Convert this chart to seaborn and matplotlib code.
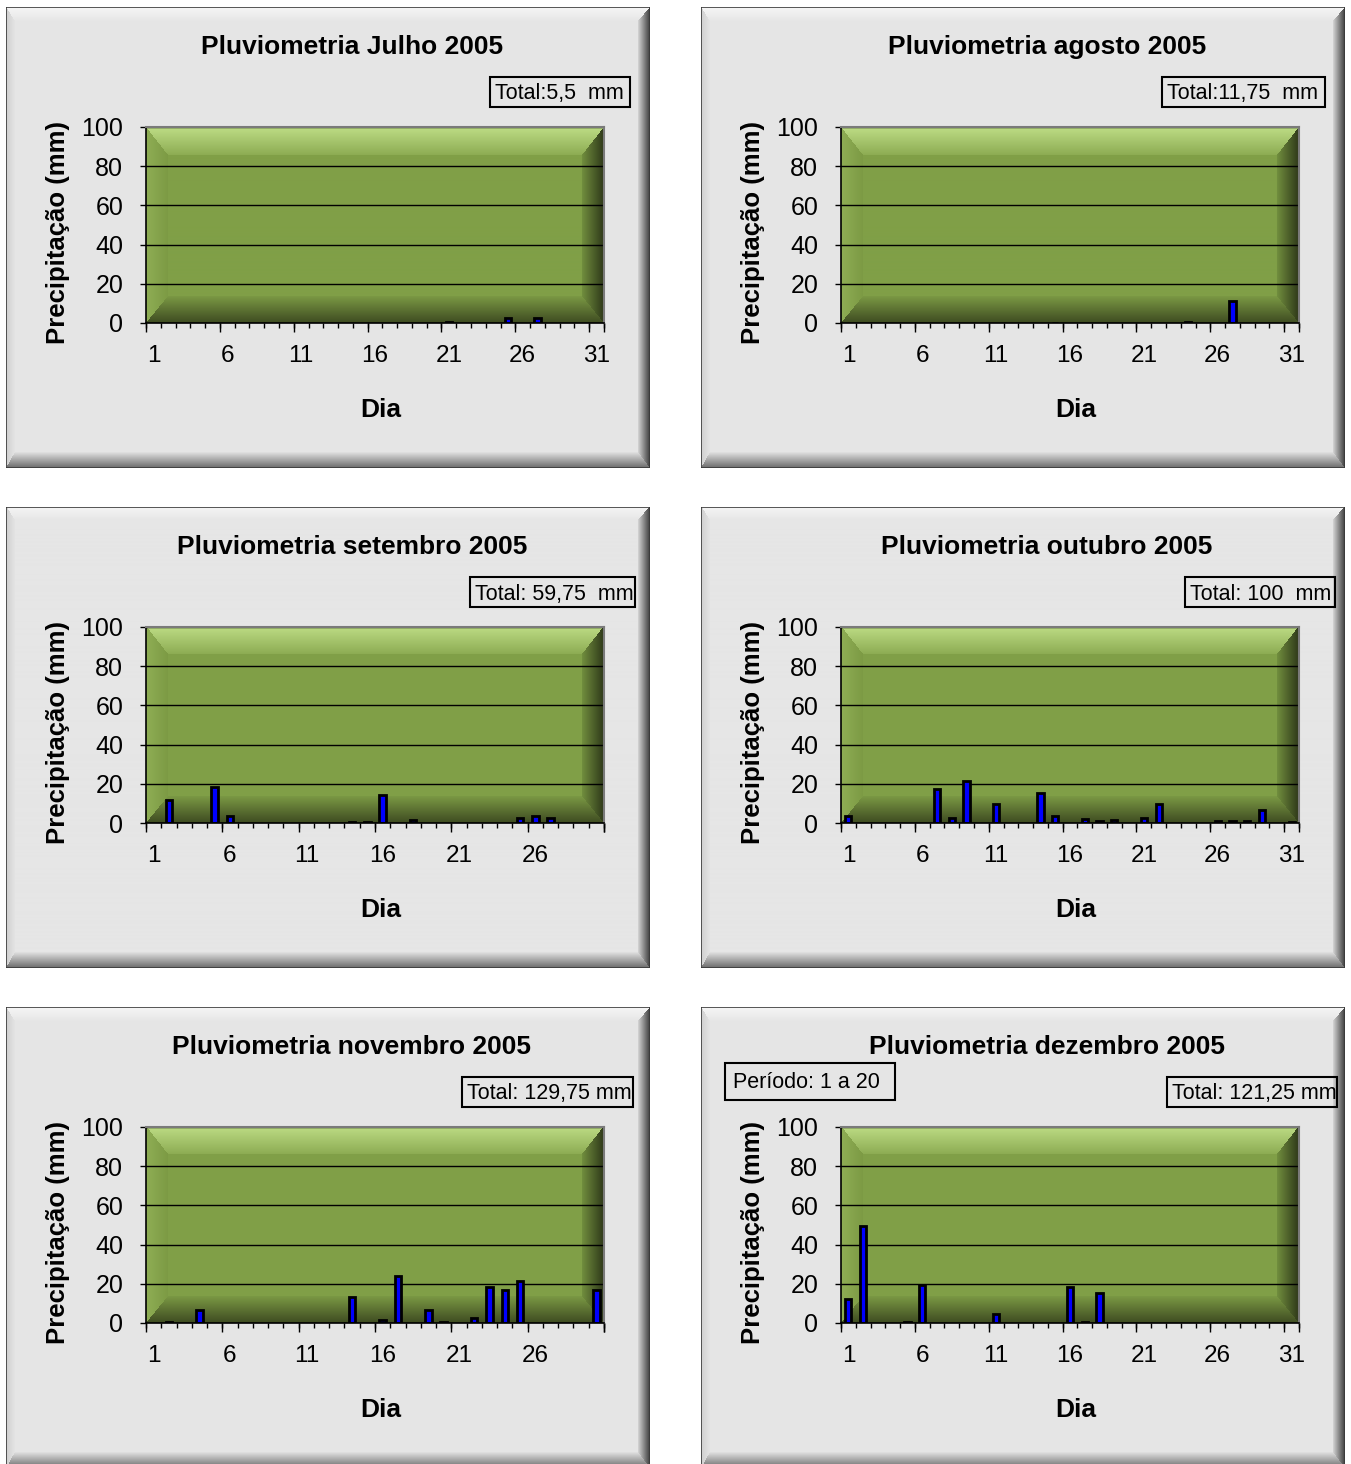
import numpy as np
import pandas as pd
import seaborn as sns
import matplotlib.pyplot as plt
from matplotlib.patches import Rectangle
from matplotlib.colors import to_rgb

# dados (mm por dia)
meses = ["Julho", "agosto", "setembro", "outubro", "novembro", "dezembro"]
n_dias = [31, 31, 30, 31, 30, 31]
totais = ["Total:5,5  mm", "Total:11,75  mm", "Total: 59,75  mm",
          "Total: 100  mm", "Total: 129,75 mm", "Total: 121,25 mm"]

dias_jul = [21, 25, 27]
chuva_jul = [0.5, 2.5, 2.5]
dias_ago = [15, 24, 27]
chuva_ago = [0.25, 0.5, 11]
dias_set = [2, 5, 6, 14, 15, 16, 18, 25, 26, 27]
chuva_set = [11.5, 18.5, 3.5, 0.75, 0.75, 14.5, 1.75, 2.5, 3.5, 2.5]
dias_out = [1, 7, 8, 9, 11, 14, 15, 17, 18, 19, 21, 22, 26, 27, 28, 29, 31]
chuva_out = [3.5, 17.5, 2.5, 21.5, 9.5, 15.5, 3.5, 2, 1, 1.5, 2.5, 9.5, 1, 1, 1, 6.5, 0.5]
dias_nov = [2, 4, 14, 16, 17, 19, 20, 22, 23, 24, 25, 30]
chuva_nov = [0.5, 6.5, 13.5, 1.75, 24, 6.5, 0.5, 2.5, 18.5, 17, 21.5, 17]
dias_dez = [1, 2, 5, 6, 11, 16, 17, 18]
chuva_dez = [12.5, 49.5, 0.5, 19.5, 4.75, 18.5, 0.5, 15.5]

dias = [dias_jul, dias_ago, dias_set, dias_out, dias_nov, dias_dez]
chuva = [chuva_jul, chuva_ago, chuva_set, chuva_out, chuva_nov, chuva_dez]

# layout em pixels
W, H = 1351, 1464
col_left = [6, 701]
row_top = [7, 507, 1007]
caixas = [(484, 624), (461, 624), (464, 629), (484, 634), (456, 627), (466, 636)]


def fx(px):
    return px / W


def fy(py):
    return 1 - py / H


def bevel_img(w, h, face, sides, widths):
    yy, xx = np.mgrid[0:h, 0:w] + 0.5
    dist = np.stack([yy / widths[0], (h - yy) / widths[1],
                     xx / widths[2], (w - xx) / widths[3]])
    k = dist.argmin(axis=0)
    t = np.clip(dist.min(axis=0), 0, 1)
    img = np.empty((h, w, 3))
    img[:] = to_rgb(face)
    for i, (outer, inner) in enumerate(sides):
        m = (k == i) & (t < 1)
        tt = t[m][:, None]
        img[m] = np.array(to_rgb(outer)) * (1 - tt) + np.array(to_rgb(inner)) * tt
    return img


sns.set_theme(style="white")
plt.rcParams["font.family"] = ["Liberation Sans", "DejaVu Sans"]

panel_img = bevel_img(644, 461, "#e6e6e6",
                      [("#f6f6f6", "#e6e6e6"), ("#6a6a6a", "#e2e2e2"),
                       ("#cfcfcf", "#e4e4e4"), ("#3c3c3c", "#d6d6d6")],
                      [14, 16, 9, 12])
green_img = bevel_img(458, 197, "#809f47",
                      [("#bedd86", "#8dac53"), ("#3e4b21", "#7b9944"),
                       ("#8fae55", "#7c9a44"), ("#2e3819", "#718e3e")],
                      [28, 27, 22, 22])

fig = plt.figure(figsize=(W / 100, H / 100), dpi=100)
fig.patch.set_facecolor("white")

for i, mes in enumerate(meses):
    r, c = divmod(i, 2)
    x0, y0 = col_left[c], row_top[r]
    n = n_dias[i]

    # fundo do painel
    pax = fig.add_axes([fx(x0), fy(y0 + 461), fx(644), 461 / H], zorder=0)
    pax.imshow(panel_img, extent=(0, 1, 0, 1), aspect="auto")
    pax.add_patch(Rectangle((0, 0), 1, 1, fill=False, ec="#3a3a3a", lw=1.2,
                            transform=pax.transAxes))
    pax.set_axis_off()

    # area do grafico
    ax = fig.add_axes([fx(x0 + 140), fy(y0 + 316), fx(458), 196 / H], zorder=1)
    df = pd.DataFrame({"Dia": dias[i], "Precipitacao": chuva[i]})
    sns.barplot(data=df, x="Dia", y="Precipitacao", order=list(range(1, n + 1)),
                color="#0000ff", saturation=1, edgecolor="black", linewidth=2,
                width=0.42, ax=ax, zorder=2)
    ax.imshow(green_img, extent=(0, 1, 0, 1), transform=ax.transAxes,
              aspect="auto", zorder=0)
    ax.set_xlim(-0.5, n - 0.5)
    ax.set_ylim(0, 100)
    ax.set_xlabel("")
    ax.set_ylabel("")

    ax.set_yticks(range(0, 101, 20))
    ax.yaxis.grid(True, color="black", lw=1)
    ax.xaxis.grid(False)
    ax.set_xticks(range(0, n, 5), [str(d) for d in range(1, n + 1, 5)])
    ax.set_xticks(np.arange(-0.5, n, 1), minor=True)
    ax.tick_params(axis="x", which="major", length=0, pad=16, labelsize=17.5,
                   labelcolor="black")
    ax.tick_params(axis="x", which="minor", length=3.6, width=1, color="black",
                   direction="out", bottom=True)
    ax.tick_params(axis="y", length=4.3, width=1, color="black", pad=12,
                   labelsize=18, labelcolor="black", direction="out", left=True)
    sec = ax.secondary_xaxis("bottom")
    sec.set_xticks(list(np.arange(-0.5, n, 5)) + [n - 0.5])
    sec.tick_params(axis="x", length=6.5, width=1, color="black",
                    direction="out", labelbottom=False)
    sec.spines["bottom"].set_visible(False)
    for s in ["left", "bottom"]:
        ax.spines[s].set_color("black")
        ax.spines[s].set_linewidth(1.2)
    for s in ["top", "right"]:
        ax.spines[s].set_color("#7a7a7a")
        ax.spines[s].set_linewidth(1.5)

    # textos
    fig.text(fx(x0 + 346), fy(y0 + 40), f"Pluviometria {mes} 2005",
             ha="center", va="center", fontsize=19, weight="bold", color="black")
    fig.text(fx(x0 + 375), fy(y0 + 403), "Dia", ha="center", va="center",
             fontsize=19, weight="bold", color="black")
    fig.text(fx(x0 + 52), fy(y0 + 225), "Precipitação (mm)", ha="center",
             va="center", rotation=90, fontsize=18.5, weight="bold", color="black")

    bx0, bx1 = caixas[i]
    fig.add_artist(Rectangle((fx(x0 + bx0), fy(y0 + 100)), fx(bx1 - bx0), 30 / H,
                             fill=False, ec="black", lw=1.5,
                             transform=fig.transFigure, zorder=3))
    fig.text(fx(x0 + bx0 + 5), fy(y0 + 87), totais[i], ha="left", va="center",
             fontsize=15.5, color="black")

# caixa do periodo em dezembro
x0, y0 = col_left[1], row_top[2]
fig.add_artist(Rectangle((fx(x0 + 24), fy(y0 + 93)), fx(170), 37 / H,
                         fill=False, ec="black", lw=1.5,
                         transform=fig.transFigure, zorder=3))
fig.text(fx(x0 + 32), fy(y0 + 75), "Período: 1 a 20", ha="left", va="center",
         fontsize=15.5, color="black")

plt.savefig("out.png", dpi=100)
